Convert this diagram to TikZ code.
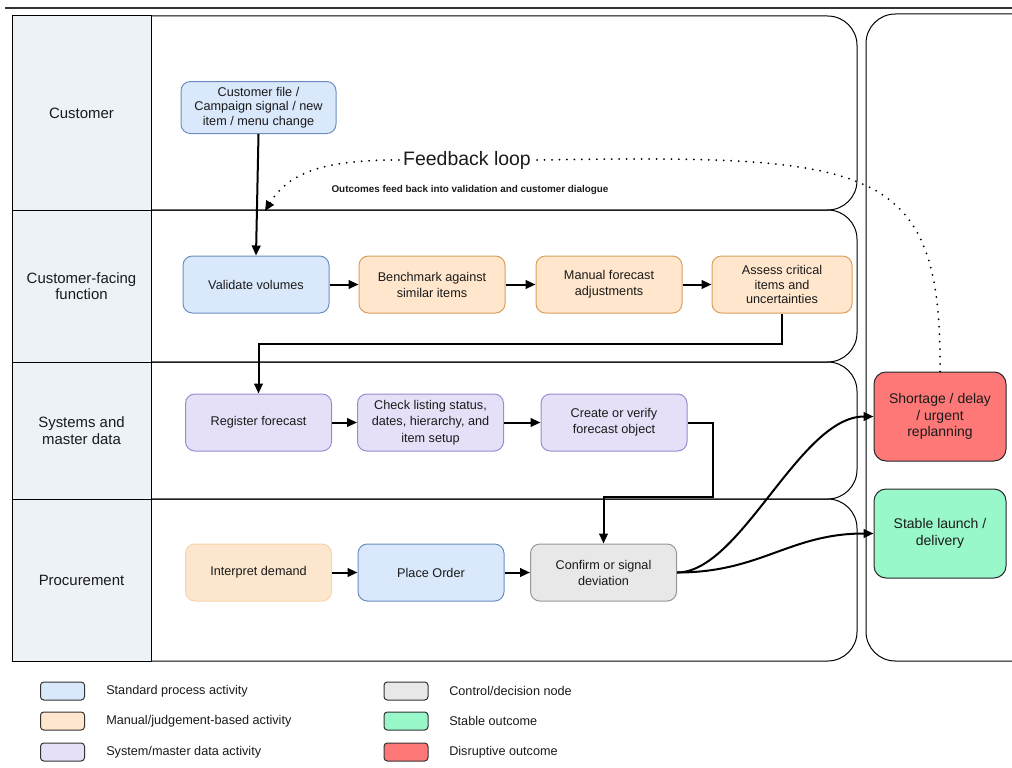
\documentclass[tikz,border=0pt]{standalone}
\usepackage{fontspec}
\setmainfont{Liberation Sans}
\usetikzlibrary{arrows.meta}

\definecolor{lanefill}{RGB}{237,242,247}
\definecolor{bluefill}{RGB}{218,232,252}
\definecolor{blueline}{RGB}{108,142,191}
\definecolor{orangefill}{RGB}{255,230,204}
\definecolor{orangeline}{RGB}{217,160,91}
\definecolor{palefill}{RGB}{252,230,206}
\definecolor{paleline}{RGB}{248,212,170}
\definecolor{purplefill}{RGB}{229,224,247}
\definecolor{purpleline}{RGB}{154,139,208}
\definecolor{grayfill}{RGB}{232,232,232}
\definecolor{grayline}{RGB}{150,150,150}
\definecolor{redfill}{RGB}{255,120,120}
\definecolor{greenfill}{RGB}{153,248,201}
\definecolor{textdark}{RGB}{26,26,26}

\begin{document}
\begin{tikzpicture}[
  x=0.75pt, y=-0.75pt,
  lanebox/.style={draw=black, line width=0.75pt},
  lanelbl/.style={draw=black, fill=lanefill, line width=0.75pt,
    minimum width=104.25pt, align=center, text=textdark,
    font=\fontsize{11.2}{12.5}\selectfont},
  proc/.style={draw, rounded corners=7pt, line width=0.75pt,
    minimum width=109.5pt, minimum height=42.75pt, align=center,
    inner sep=2pt, text=textdark, font=\fontsize{9.5}{12}\selectfont},
  bluebox/.style={proc, fill=bluefill, draw=blueline},
  orangebox/.style={proc, fill=orangefill, draw=orangeline},
  purplebox/.style={proc, fill=purplefill, draw=purpleline},
  outcome/.style={draw=black!85, rounded corners=9pt, line width=0.75pt,
    minimum width=99pt, minimum height=66.75pt, align=center,
    text=textdark, font=\fontsize{10.5}{12.5}\selectfont},
  legbox/.style={draw=black!80, rounded corners=2.5pt, line width=0.75pt,
    minimum width=33pt, minimum height=13.5pt, inner sep=0pt},
  legtext/.style={anchor=west, inner sep=0pt, text=textdark,
    font=\fontsize{9.5}{11}\selectfont},
  arr/.style={draw=black, line width=1.5pt,
    -{Triangle[length=7.5pt,width=6.5pt]}},
  dotline/.style={draw=black, line width=1.5pt, line cap=round,
    dash pattern=on 0pt off 5.6pt}
]
\useasboundingbox (0,0) rectangle (1012,767);

% rule along the top
\draw[black!80, line width=1pt] (5,8) -- (1012,8);

% lane label column
\node[lanelbl, minimum height=145.5pt] (lcust) at (81.5,113) {Customer};
\node[lanelbl, minimum height=114pt] (lcff) at (81.5,286) {Customer-facing\\function};
\node[lanelbl, minimum height=102.75pt] (lsys) at (81.5,430.5) {Systems and\\master data};
\node[lanelbl, minimum height=121.5pt] (lproc) at (81.5,580) {Procurement};

% lane bodies, rounded on the right
\draw[lanebox, rounded corners=22pt] (151,16) -- (857,16) -- (857,210) -- (151,210);
\draw[lanebox, rounded corners=22pt] (151,210) -- (857,210) -- (857,362) -- (151,362);
\draw[lanebox, rounded corners=22pt] (151,362) -- (857,362) -- (857,499) -- (151,499);
\draw[lanebox, rounded corners=22pt] (151,499) -- (857,499) -- (857,661) -- (151,661);

% outcome column
\draw[lanebox, rounded corners=22pt] (866,14) rectangle (1045,661);

% process steps
\node[bluebox, minimum width=116.25pt, minimum height=39pt,
      font=\fontsize{9.5}{11}\selectfont] (cust) at (258.5,107.5)
  {Customer file /\\Campaign signal / new\\item / menu change};

\node[bluebox] (val) at (256,284.5) {Validate volumes};
\node[orangebox] (bench) at (432,284.5) {Benchmark against\\similar items};
\node[orangebox] (man) at (609,284.5) {Manual forecast\\adjustments};
\node[orangebox, minimum width=105pt, font=\fontsize{9.5}{11}\selectfont]
  (assess) at (782,284.5) {Assess critical\\items and\\uncertainties};

\node[purplebox] (reg) at (258.5,422.5) {Register forecast};
\node[purplebox, font=\fontsize{9.5}{12.3}\selectfont] (chk) at (430.5,422.5)
  {Check listing status,\\dates, hierarchy, and\\item setup};
\node[purplebox] (crt) at (614,422.5) {Create or verify\\forecast object};

\node[proc, fill=palefill, draw=paleline] (interp) at (258.5,572.5) {Interpret demand};
\node[bluebox] (place) at (431,572.5) {Place Order};
\node[proc, fill=grayfill, draw=grayline] (conf) at (603.5,572.5) {Confirm or signal\\deviation};

\node[outcome, fill=redfill] (short) at (940,416.5) {Shortage / delay\\/ urgent\\replanning};
\node[outcome, fill=greenfill] (stable) at (940,533.5) {Stable launch /\\delivery};

% flow
\draw[arr] (cust.south) -- (val.north);
\draw[arr] (val.east) -- (bench.west);
\draw[arr] (bench.east) -- (man.west);
\draw[arr] (man.east) -- (assess.west);
\coordinate (j1) at (0,344);
\draw[arr] (assess.south) |- (reg.north |- j1) -- (reg.north);
\draw[arr] (reg.east) -- (chk.west);
\draw[arr] (chk.east) -- (crt.west);
\coordinate (j2) at (713,497);
\draw[arr] (crt.east) -| (j2) -| (conf.north);
\draw[arr] (interp.east) -- (place.west);
\draw[arr] (place.east) -- (conf.west);
\draw[arr] (conf.east) .. controls +(64,0) and +(-74,0) .. (short.west);
\draw[arr] (conf.east) .. controls +(84,0) and +(-84,0) .. (stable.west);

% feedback loop
\node[inner sep=3pt, text=textdark, font=\fontsize{14.6}{16}\selectfont]
  (fb) at (467,160) {Feedback loop};
\node[inner sep=0pt, text=textdark, font=\bfseries\fontsize{7.4}{9}\selectfont]
  (fbnote) at (470,190) {Outcomes feed back into validation and customer dialogue};
\coordinate (fbend) at (265,211);
\draw[dotline] (short.north) .. controls (942,160) and (870,155) .. (fb.east);
\draw[dotline, -{Triangle[length=7.5pt,width=6.5pt]}]
  (fb.west) .. controls (330,160) and (290,170) .. (fbend);

% legend
\node[legbox, fill=bluefill] (k1) at (62.5,691) {};
\node[legtext] (t1) at (106,691) {Standard process activity};
\node[legbox, fill=orangefill] (k2) at (62.5,721) {};
\node[legtext] (t2) at (106,721) {Manual/judgement-based activity};
\node[legbox, fill=purplefill] (k3) at (62.5,752) {};
\node[legtext] (t3) at (106,752) {System/master data activity};
\node[legbox, fill=grayfill] (k4) at (406,691) {};
\node[legtext] (t4) at (449,691) {Control/decision node};
\node[legbox, fill=greenfill] (k5) at (406,721) {};
\node[legtext] (t5) at (449,721) {Stable outcome};
\node[legbox, fill=redfill] (k6) at (406,752) {};
\node[legtext] (t6) at (449,752) {Disruptive outcome};
\end{tikzpicture}
\end{document}
